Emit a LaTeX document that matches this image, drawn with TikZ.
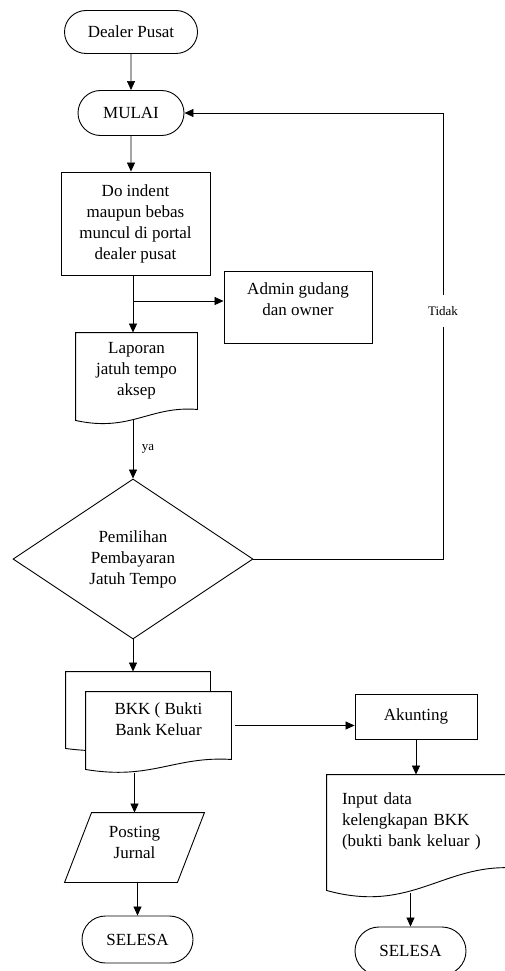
\documentclass[tikz,border=0pt]{standalone}
\usepackage{fontspec}
\setmainfont{Liberation Serif}
\usetikzlibrary{shapes.geometric,shapes.misc,arrows.meta,calc,backgrounds}

\tikzset{
  base/.style={draw, line width=0.9pt, font=\fontsize{17}{21}\selectfont, align=center, inner sep=0pt},
  terminal/.style={base, rounded rectangle},
  process/.style={base, rectangle},
  docbox/.style={base, draw=none},
  decision/.style={base, diamond},
  docline/.style={line width=0.9pt},
  line/.style={line width=0.7pt},
  arr/.style={line width=0.7pt, -{Triangle[length=9pt,width=8pt]}},
  lbl/.style={font=\fontsize{13}{15}\selectfont, inner sep=0pt, fill=white},
}

% document symbol drawn round a node without border
\newcommand{\docshape}[3][]{%
  \begin{pgfonlayer}{background}
  \draw[docline,#1] (#2.north west) -- (#2.north east) -- (#2.south east)
    .. controls ($(#2.south east)!0.39!(#2.south west)+(0,-0.36*#3)$)
       and ($(#2.south east)!0.55!(#2.south west)+(0,2.1*#3)$)
    .. ($(#2.south west)+(0,#3)$) -- cycle;
  \end{pgfonlayer}}

\begin{document}
\begin{tikzpicture}[x=1pt,y=-1pt]
\useasboundingbox (0,0) rectangle (505,971);

% left column
\node[terminal, minimum width=133pt, minimum height=43pt] (dealer) at (131,32) {Dealer Pusat};
\node[terminal, minimum width=106pt, minimum height=45pt] (mulai) at (131,113) {MULAI};
\node[process, minimum width=149pt, minimum height=103pt] (indent) at (135.5,223.5) {Do indent\\maupun bebas\\muncul di portal\\dealer pusat};
\node[process, minimum width=148pt, minimum height=72pt, text depth=16pt] (admin) at (298,307) {Admin gudang\\dan owner};
\node[docbox, minimum width=121pt, minimum height=76pt] (lap) at (136.5,371) {Laporan\\jatuh tempo\\aksep};
\docshape{lap}{11}
\node[decision, minimum width=240pt, minimum height=160pt] (pilih) at (133,559) {Pemilihan\\Pembayaran\\Jatuh Tempo};
\node[docbox, minimum width=144pt, minimum height=68pt] (bkkb) at (138,706) {};
\docshape[fill=white]{bkkb}{8}
\node[docbox, minimum width=145pt, minimum height=67pt, text depth=12pt] (bkk) at (158.5,725.5) {BKK ( Bukti\\Bank Keluar};
\docshape[fill=white]{bkk}{10}
\node[docbox, minimum width=112pt, minimum height=69pt, text depth=10pt] (post) at (134.5,847.5) {Posting\\Jurnal};
\draw[docline] ([xshift=13.5pt]post.north west) -- ([xshift=13.5pt]post.north east)
  -- ([xshift=-13.5pt]post.south east) -- ([xshift=-13.5pt]post.south west) -- cycle;
\node[terminal, minimum width=111pt, minimum height=47pt] (sel1) at (137.5,939.5) {SELESA};

% right column
\node[process, minimum width=122pt, minimum height=45pt] (akun) at (416,716.5) {Akunting};
\node[docbox, minimum width=193pt, minimum height=93pt, text width=163pt, align=left] (input) at (423.5,821.5) {Input data\\kelengkapan BKK\\(bukti bank keluar )};
\docshape{input}{22}
\node[terminal, minimum width=111pt, minimum height=48pt] (sel2) at (410.5,951) {SELESA};

% labels
\node[lbl, minimum height=32pt] (tidak) at (443,311) {Tidak};
\node[lbl] (ya) at (148,449) {ya};

% connectors
\coordinate (split) at (133,301);
\draw[arr] (dealer) -- (mulai);
\draw[arr] (mulai) -- (mulai |- indent.north);
\draw[line] (indent.south -| split) -- (split);
\draw[arr] (split) -- (split |- lap.north);
\draw[arr] (split) -- (split -| admin.west);
\draw[arr] ([yshift=-10pt]lap.south -| pilih.north) -- (pilih.north);
\draw[line] (pilih.east) -| (tidak.south);
\draw[arr] (tidak.north) |- (mulai.east);
\draw[arr] (pilih.south) -- (pilih.south |- bkkb.north);
\draw[arr] ([xshift=4pt]bkk.east) -- (bkk.east -| akun.west);
\draw[arr] ([yshift=-14pt]bkk.south -| post.north) -- (post.north);
\draw[arr] (post.south -| sel1.north) -- (sel1.north);
\draw[arr] (akun.south) -- (akun.south |- input.north);
\draw[arr] ([yshift=-25pt]input.south -| sel2.north) -- (sel2.north);

\end{tikzpicture}
\end{document}
